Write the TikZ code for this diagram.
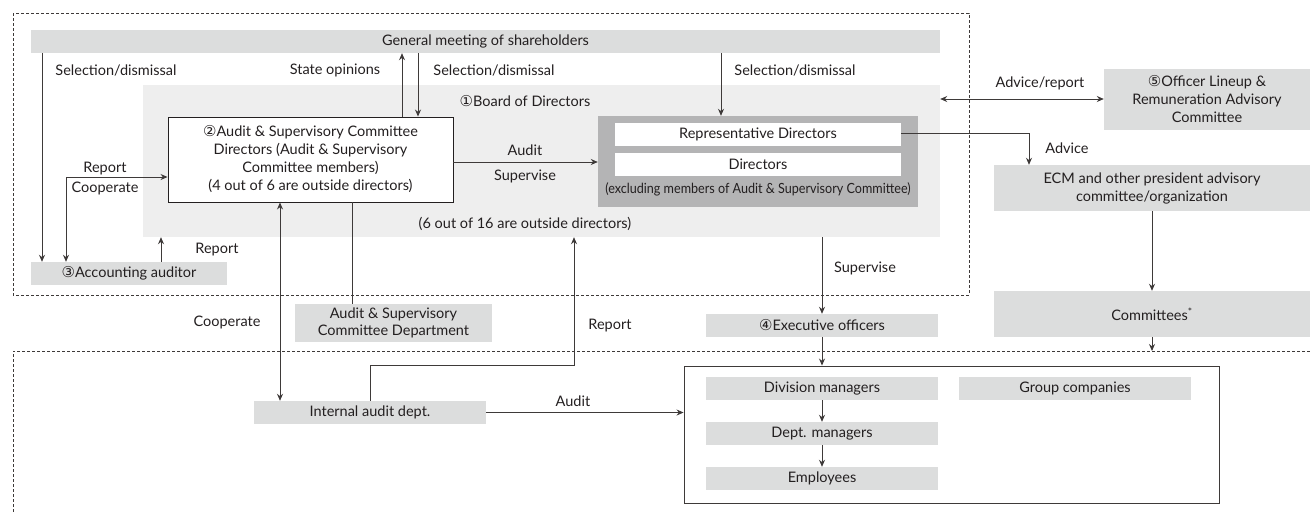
\documentclass[tikz,border=0pt]{standalone}
\usepackage{fontspec}
\usepackage{graphicx}
\setmainfont{Lato}
\newfontfamily\circfont{DejaVu Sans}
\usetikzlibrary{arrows.meta}
\newcommand{\cnum}[1]{{\circfont\fontsize{15}{15}\selectfont #1}}
\definecolor{ink}{HTML}{231F20}
\definecolor{ln}{HTML}{3E3A39}
\definecolor{gA}{HTML}{DCDDDD}
\definecolor{gB}{HTML}{EEEEEE}
\definecolor{gC}{HTML}{B4B4B5}
\tikzset{
  box/.style={fill=gA, inner sep=0pt, align=center, text=ink},
  lbl/.style={inner sep=0pt, align=center, text=ink},
  con/.style={draw=ln, line width=0.9pt, -{Stealth[length=7pt,width=6pt]}},
  con2/.style={draw=ln, line width=0.9pt, {Stealth[length=7pt,width=6pt]}-{Stealth[length=7pt,width=6pt]}},
  plain/.style={draw=ln, line width=0.9pt},
  frame/.style={draw=ln, line width=0.8pt, dash pattern=on 3pt off 2pt}
}
\begin{document}
\begin{tikzpicture}[x=1pt,y=-1pt, font=\fontsize{14.5}{18}\selectfont]
\useasboundingbox (0,0) rectangle (1310,512);
% dashed frames
\draw[frame] (13,13) rectangle (969,295);
\draw[frame] (1310,351) -- (13,351) -- (13,512);

% main nodes
\node[box, minimum width=909pt, minimum height=23pt] (gm) at (485.5,41.5) {General meeting of shareholders};
\node[fill=gB, inner sep=0pt, minimum width=797pt, minimum height=152pt] (board) at (541.5,161) {};
\node[lbl] (boardlbl) at (525,101) {\cnum{①}Board of Directors};
\node[lbl] (boardnote) at (525,224) {(6 out of 16 are outside directors)};
\node[draw=ink, fill=white, line width=0.9pt, inner sep=0pt, minimum width=285pt, minimum height=85pt, align=center, text=ink] (asc) at (310.5,159.5)
  {\cnum{②}Audit \& Supervisory Committee\\Directors (Audit \& Supervisory\\Committee members)\\(4 out of 6 are outside directors)};
\node[fill=gC, inner sep=0pt, minimum width=320pt, minimum height=91pt] (dark) at (758,161.5) {};
\node[fill=white, inner sep=0pt, minimum width=286pt, minimum height=23pt, text=ink] (rep) at (758,134.5) {Representative Directors};
\node[fill=white, inner sep=0pt, minimum width=286pt, minimum height=23pt, text=ink] (dirs) at (758,164.5) {Directors};
\node[lbl] (excl) at (758,189) {\scalebox{0.9}[1]{\fontsize{14}{15}\selectfont (excluding members of Audit \& Supervisory Committee)}};
\node[box, minimum width=196pt, minimum height=23pt] (acc) at (129,273.5) {\cnum{③}Accounting auditor};
\node[box, minimum width=197pt, minimum height=38pt, font=\fontsize{14.5}{17}\selectfont] (dept) at (393.5,323) {Audit \& Supervisory\\Committee Department};
\node[box, minimum width=232pt, minimum height=23pt] (exec) at (822,325.5) {\cnum{④}Executive officers};
\node[box, minimum width=232pt, minimum height=23pt] (iad) at (370,412.5) {Internal audit dept.};
\node[draw=ln, line width=0.9pt, inner sep=0pt, minimum width=535pt, minimum height=137pt] (big) at (951.5,434.5) {};
\node[box, minimum width=232pt, minimum height=23pt] (div) at (822,388.5) {Division managers};
\node[box, minimum width=232pt, minimum height=23pt] (dm) at (822,433.5) {Dept. managers};
\node[box, minimum width=232pt, minimum height=23pt] (emp) at (822,478.5) {Employees};
\node[box, minimum width=232pt, minimum height=23pt] (grp) at (1075,388.5) {Group companies};
\node[box, minimum width=206pt, minimum height=61pt] (off) at (1207,99.5) {\cnum{⑤}Officer Lineup \&\\Remuneration Advisory\\Committee};
\node[box, minimum width=316pt, minimum height=46pt] (ecm) at (1152,188) {ECM and other president advisory\\committee/organization};
\node[box, minimum width=316pt, minimum height=46pt] (comm) at (1152,314) {Committees\textsuperscript{*}};
\coordinate (commend) at (1152,351);

% connectors
\draw[con] (42,0 |- gm.south) -- (42,0 |- acc.north);
\node[lbl] (l1) at (116,70) {Selection/dismissal};
\draw[con2] (66,0 |- acc.north) |- (asc.west |- 0,177);
\node[lbl] (l2) at (105,169) {Report};
\node[lbl] (l3) at (105,188) {Cooperate};
\draw[con] (161,0 |- acc.north) -- (161,0 |- board.south);
\node[lbl] (l4) at (217,250) {Report};
\draw[con] (402,0 |- asc.north) -- (402,0 |- gm.south);
\node[lbl] (l5) at (335,70) {State opinions};
\draw[con] (418,0 |- gm.south) -- (418,0 |- asc.north);
\node[lbl] (l6) at (494,70) {Selection/dismissal};
\draw[con] (721,0 |- gm.south) -- (721,0 |- dark.north);
\node[lbl] (l7) at (795,70) {Selection/dismissal};
\draw[con] (asc.east |- 0,162) -- (dark.west |- 0,162);
\node[lbl] (l8) at (525,150) {Audit};
\node[lbl] (l9) at (525,176) {Supervise};
\draw[con2] (board.east |- 0,99) -- (off.west |- 0,99);
\node[lbl] (l10) at (1040,83) {Advice/report};
\draw[con] (rep.east |- 0,133) -| (1029,0 |- ecm.north);
\node[lbl] (l11) at (1067,148) {Advice};
\draw[con] (ecm.south) -- (comm.north);
\draw[con] (comm.south) -- (commend);
\draw[con] (822,0 |- board.south) -- (exec.north);
\node[lbl] (l12) at (865,268) {Supervise};
\draw[con] (exec.south) -- (822,0 |- big.north);
\draw[con] (div.south) -- (dm.north);
\draw[con] (dm.south) -- (emp.north);
\draw[con2] (280,0 |- asc.south) -- (280,0 |- iad.north);
\node[lbl] (l13) at (227,322) {Cooperate};
\draw[plain] (352,0 |- asc.south) -- (352,0 |- dept.north);
\draw[con] (370,0 |- iad.north) |- (574,365) -- (574,0 |- board.south);
\node[lbl] (l14) at (610,326) {Report};
\draw[con] (iad.east) -- (big.west |- iad.east);
\node[lbl] (l15) at (573,401) {Audit};
\end{tikzpicture}
\end{document}
